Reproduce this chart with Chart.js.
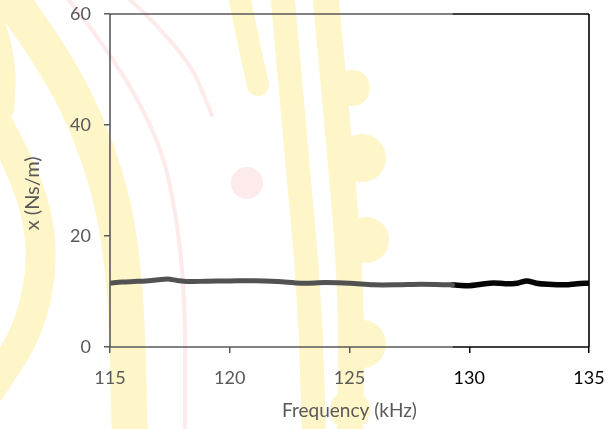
<!DOCTYPE html>
<html>
<head>
<meta charset="utf-8">
<script src="https://cdn.jsdelivr.net/npm/chart.js@4.4.1/dist/chart.umd.min.js"></script>
<style>
  html, body { margin: 0; padding: 0; background: #fff; }
  #wrap { width: 612px; height: 429px; }
</style>
</head>
<body>
<div id="wrap"><canvas id="c" width="612" height="429"></canvas></div>
<script>
// ---- data ----
const freqA = [115, 115.5, 116, 116.5, 117, 117.4, 117.8, 118.2, 119, 120, 121, 122, 123, 124, 125, 126, 127, 128, 129.3];
const valA  = [11.5, 11.7, 11.8, 11.9, 12.1, 12.25, 12.0, 11.8, 11.85, 11.9, 11.95, 11.8, 11.5, 11.6, 11.5, 11.2, 11.2, 11.3, 11.2];
const freqB = [129.3, 130, 130.5, 131, 131.5, 132, 132.4, 132.8, 133.3, 134, 134.5, 135];
const valB  = [11.2, 11.05, 11.3, 11.55, 11.4, 11.5, 11.9, 11.5, 11.3, 11.2, 11.4, 11.5];
const xTicks = [115, 120, 125, 130, 135];
const yTicks = [0, 20, 40, 60];
const splitFreq = 129.3;

const GRAY = '#595959';
const BLACK = '#000000';

// faint scanned watermark (decoration only)
function band(ctx, pts, w) {
  ctx.lineWidth = w;
  ctx.beginPath();
  ctx.moveTo(pts[0][0], pts[0][1]);
  for (let i = 1; i < pts.length - 1; i++) {
    const mx = (pts[i][0] + pts[i + 1][0]) / 2, my = (pts[i][1] + pts[i + 1][1]) / 2;
    ctx.quadraticCurveTo(pts[i][0], pts[i][1], mx, my);
  }
  const l = pts[pts.length - 1];
  ctx.lineTo(l[0], l[1]);
  ctx.stroke();
}
const watermark = {
  id: 'watermark',
  beforeDraw(chart) {
    const ctx = chart.ctx;
    ctx.save();
    ctx.fillStyle = '#ffffff';
    ctx.fillRect(0, 0, chart.width, chart.height);
    const Y = '#fef5c8';
    ctx.strokeStyle = Y; ctx.fillStyle = Y; ctx.lineCap = 'round'; ctx.lineJoin = 'round';
    // outer-left band
    band(ctx, [[-10, 110], [25, 170], [45, 250], [30, 330], [-10, 390]], 30);
    band(ctx, [[-5, 20], [8, 60], [5, 110]], 18);
    // band along the y axis
    band(ctx, [[0, -15], [50, 50], [100, 150], [125, 260], [130, 440]], 36);
    // inner right bands
    band(ctx, [[238, -10], [248, 40], [258, 85]], 22);
    band(ctx, [[282, -10], [296, 150], [310, 300], [314, 440]], 24);
    // scalloped ring
    band(ctx, [[325, -10], [340, 150], [352, 300], [350, 440]], 26);
    [[352, 88, 18], [362, 158, 24], [366, 240, 23], [362, 344, 24], [350, 410, 20]].forEach(([x, y, r]) => {
      ctx.beginPath(); ctx.arc(x, y, r, 0, Math.PI * 2); ctx.fill();
    });
    // pink arcs and dot
    ctx.strokeStyle = '#fdeaea';
    band(ctx, [[65, -5], [150, 100], [185, 250], [185, 440]], 4);
    band(ctx, [[125, -5], [185, 50], [212, 115]], 4);
    ctx.fillStyle = '#fdeaea';
    ctx.beginPath(); ctx.arc(247, 183, 16, 0, Math.PI * 2); ctx.fill();
    ctx.restore();
  }
};

// two-tone frame around the plot
const frame = {
  id: 'frame',
  afterDatasetsDraw(chart) {
    const { ctx, chartArea: a, scales } = chart;
    const xs = scales.x.getPixelForValue(splitFreq);
    ctx.save();
    ctx.lineWidth = 1.6;
    const seg = (x1, y1, x2, y2, c) => { ctx.strokeStyle = c; ctx.beginPath(); ctx.moveTo(x1, y1); ctx.lineTo(x2, y2); ctx.stroke(); };
    seg(a.left, a.top, a.left, a.bottom, GRAY);
    seg(a.left, a.bottom, xs, a.bottom, GRAY);
    seg(xs, a.bottom, a.right, a.bottom, BLACK);
    seg(a.left, a.top, xs, a.top, GRAY);
    seg(xs, a.top, a.right, a.top, BLACK);
    seg(a.right, a.top, a.right, a.bottom, BLACK);
    ctx.restore();
  }
};

const FAMILY = 'Lato, "Open Sans", sans-serif';
const tickFont = { family: FAMILY, size: 18 };

new Chart(document.getElementById('c'), {
  type: 'line',
  data: {
    datasets: [
      { data: freqA.map((f, i) => ({ x: f, y: valA[i] })), borderColor: '#525252', borderWidth: 5, pointRadius: 0, tension: 0.3, borderCapStyle: 'round' },
      { data: freqB.map((f, i) => ({ x: f, y: valB[i] })), borderColor: '#050505', borderWidth: 5.5, pointRadius: 0, tension: 0.3, borderCapStyle: 'round' }
    ]
  },
  options: {
    responsive: false,
    animation: false,
    events: [],
    layout: { padding: { top: 14, right: 23, left: 0, bottom: 0 } },
    plugins: { legend: { display: false }, tooltip: { enabled: false } },
    scales: {
      x: {
        type: 'linear', min: 115, max: 135,
        afterBuildTicks: s => { s.ticks = xTicks.map(v => ({ value: v })); },
        afterFit: s => { s.height = 82; s.paddingLeft = 0; s.paddingRight = 0; },
        grid: { drawOnChartArea: false, drawTicks: true, tickLength: 6, lineWidth: 1.5,
                color: c => (c.tick && c.tick.value >= 130) ? BLACK : GRAY },
        border: { display: false },
        ticks: { font: tickFont, padding: 14, maxRotation: 0,
                 color: c => (c.tick && c.tick.value >= 130) ? BLACK : GRAY },
        title: { display: true, text: 'Frequency (kHz)', color: GRAY, font: { family: FAMILY, size: 19 }, padding: { top: 0, bottom: 7 } }
      },
      y: {
        type: 'linear', min: 0, max: 60,
        afterBuildTicks: s => { s.ticks = yTicks.map(v => ({ value: v })); },
        afterFit: s => { s.width = 110; s.paddingTop = 0; s.paddingBottom = 0; },
        grid: { drawOnChartArea: false, drawTicks: true, tickLength: 6, lineWidth: 1.5, color: GRAY },
        border: { display: false },
        ticks: { font: tickFont, padding: 13, color: GRAY },
        title: { display: true, text: 'x (Ns/m)     ', color: GRAY, font: { family: FAMILY, size: 20 }, padding: { top: 21, bottom: 0 } }
      }
    }
  },
  plugins: [watermark, frame]
});
</script>
</body>
</html>
